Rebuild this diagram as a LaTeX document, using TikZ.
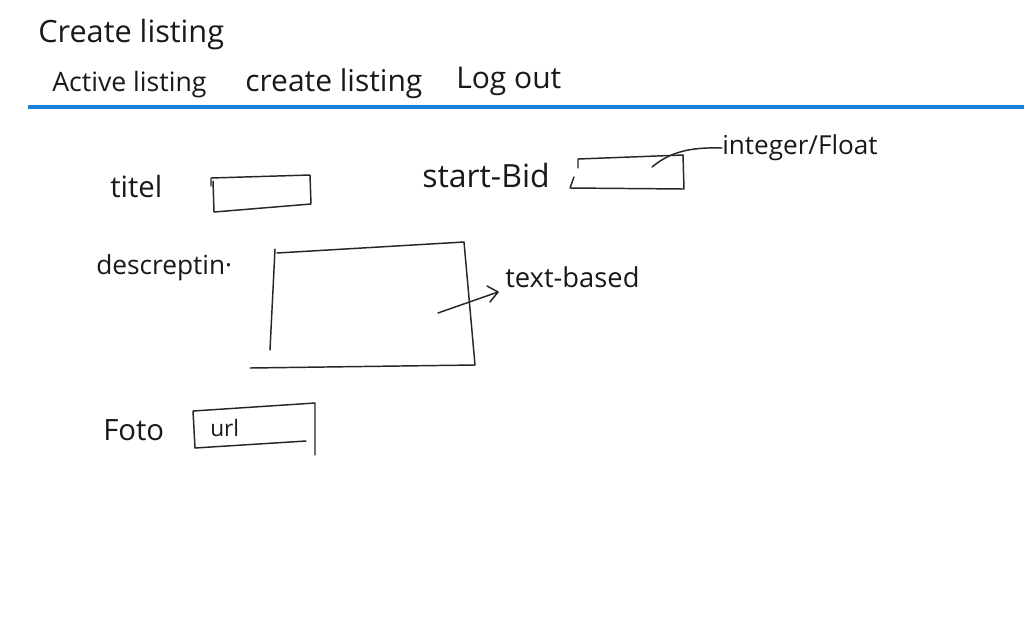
\documentclass[tikz,border=0pt]{standalone}
\usepackage{fontspec}
\setmainfont{Open Sans}
\usetikzlibrary{arrows.meta}
\definecolor{navblue}{HTML}{1C7FD6}
\tikzset{
  pen/.style={line width=1.1pt, line cap=round, line join=round, black!85},
  lbl/.style={inner sep=0pt, text=black!90},
}
\newcommand{\fsz}[1]{\fontsize{#1}{#1}\selectfont}
\begin{document}
\begin{tikzpicture}[x=0.75pt,y=-0.75pt]
\useasboundingbox (0,0) rectangle (1024,640);
\fill[white] (0,0) rectangle (1024,640);
% header
\node[lbl, anchor=west, font=\fsz{23}] (title) at (38,35) {Create listing};
\node[lbl, anchor=west, font=\fsz{20}] (nav1) at (52,85) {Active listing};
\node[lbl, anchor=west, font=\fsz{22.5}] (nav2) at (245,84) {create listing};
\node[lbl, anchor=west, font=\fsz{22.5}] (nav3) at (456,81) {Log out};
\draw[navblue, line width=2.3pt] (28,107) -- (1024,107);
% titel
\node[lbl, anchor=west, font=\fsz{22}] (titel) at (110,186) {titel};
\draw[pen] (211,186) -- (211,178) -- (310,175) -- (311,204) -- (214,212) -- (213,181);
% start-Bid
\node[lbl, anchor=west, font=\fsz{24}] (startbid) at (422,175) {start-Bid};
\draw[pen] (578,168) -- (578,159) -- (683,155) -- (684,189) -- (570,188) -- (574,177);
\node[lbl, anchor=west, font=\fsz{19.6}] (intfloat) at (722,148) {integer/Float};
\coordinate (sbin) at (652,167);
\draw[pen] (sbin) .. controls (670,152) and (690,147) .. (intfloat.west);
% description
\node[lbl, anchor=west, font=\fsz{19.7}] (desc) at (96,268) {descreptin·};
\draw[pen] (275,249) -- (270,350);
\draw[pen] (277,253) -- (464,242) -- (475,365) -- (250,368);
\node[lbl, anchor=west, font=\fsz{20.5}] (textbased) at (505,277) {text-based};
\coordinate (dsin) at (438,313);
\coordinate (dstip) at (498,292);
\draw[pen] (dsin) -- (dstip);
\draw[pen] (487,286) -- (dstip) -- (490,302);
% foto
\node[lbl, anchor=west, font=\fsz{22}] (foto) at (103,430) {Foto};
\draw[pen] (306,441) -- (195,448) -- (193,411) -- (315,403) -- (315,455);
\node[lbl, anchor=west, font=\fsz{17}] (url) at (210,428) {url};
\end{tikzpicture}
\end{document}
